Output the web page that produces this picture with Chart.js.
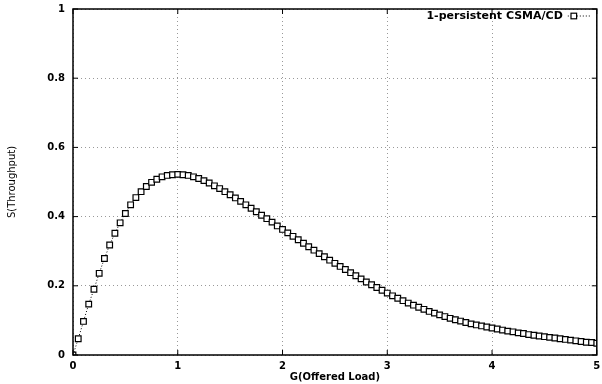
<!DOCTYPE html>
<html><head><meta charset="utf-8">
<script src="https://cdn.jsdelivr.net/npm/chart.js@4/dist/chart.umd.min.js"></script>
<style>html,body{margin:0;padding:0;background:#fff}#wrap{width:602px;height:384px;position:relative}</style>
</head><body><div id="wrap"><canvas id="c" width="602" height="384"></canvas></div>
<script>
const offeredLoad = [0,0.05,0.1,0.15,0.2,0.25,0.3,0.35,0.4,0.45,0.5,0.55,0.6,0.65,0.7,0.75,0.8,0.85,0.9,0.95,
  1,1.05,1.1,1.15,1.2,1.25,1.3,1.35,1.4,1.45,1.5,1.55,1.6,1.65,1.7,1.75,1.8,1.85,1.9,1.95,
  2,2.05,2.1,2.15,2.2,2.25,2.3,2.35,2.4,2.45,2.5,2.55,2.6,2.65,2.7,2.75,2.8,2.85,2.9,2.95,
  3,3.05,3.1,3.15,3.2,3.25,3.3,3.35,3.4,3.45,3.5,3.55,3.6,3.65,3.7,3.75,3.8,3.85,3.9,3.95,
  4,4.05,4.1,4.15,4.2,4.25,4.3,4.35,4.4,4.45,4.5,4.55,4.6,4.65,4.7,4.75,4.8,4.85,4.9,4.95,5];
const throughput = [0,0.047,0.097,0.147,0.19,0.236,0.279,0.318,0.352,0.382,0.409,0.434,0.455,0.472,0.487,0.499,0.508,0.515,0.519,0.521,
  0.522,0.521,0.519,0.515,0.510,0.504,0.497,0.489,0.481,0.472,0.463,0.454,0.444,0.434,0.424,0.414,0.404,0.394,0.384,0.373,
  0.363,0.353,0.343,0.333,0.323,0.313,0.303,0.293,0.284,0.274,0.265,0.256,0.247,0.238,0.229,0.220,0.211,0.203,0.195,0.187,
  0.179,0.171,0.164,0.157,0.150,0.144,0.138,0.132,0.126,0.121,0.116,0.111,0.106,0.102,0.098,0.094,0.090,0.087,0.084,0.081,
  0.078,0.075,0.072,0.069,0.067,0.064,0.062,0.059,0.057,0.055,0.053,0.051,0.049,0.047,0.045,0.043,0.041,0.039,0.037,0.036,0.034];
const xTickLabels = ['0','1','2','3','4','5'];
const yTickLabels = ['0','0.2','0.4','0.6','0.8','1'];
const seriesLabel = '1-persistent CSMA/CD';
const xTitle = 'G(Offered Load)';
const yTitle = 'S(Throughput)';

const FONT = 'DejaVu Sans';

const framePlugin = {
  id: 'frame',
  afterDatasetsDraw(chart) {
    const {ctx, chartArea: a, scales: {x, y}} = chart;
    ctx.save();
    ctx.strokeStyle = '#000';
    ctx.lineWidth = 1.5;
    ctx.setLineDash([]);
    ctx.strokeRect(a.left, a.top, a.right - a.left, a.bottom - a.top);
    ctx.lineWidth = 1;
    const tl = 5;
    x.ticks.forEach(t => {
      const px = x.getPixelForValue(t.value);
      ctx.beginPath();
      ctx.moveTo(px, a.bottom); ctx.lineTo(px, a.bottom - tl);
      ctx.moveTo(px, a.top); ctx.lineTo(px, a.top + tl);
      ctx.stroke();
    });
    y.ticks.forEach(t => {
      const py = y.getPixelForValue(t.value);
      ctx.beginPath();
      ctx.moveTo(a.left, py); ctx.lineTo(a.left + tl, py);
      ctx.moveTo(a.right, py); ctx.lineTo(a.right - tl, py);
      ctx.stroke();
    });
    // legend
    const ly = a.top + 7;
    ctx.font = 'bold 11px "' + FONT + '"';
    ctx.fillStyle = '#000';
    ctx.textAlign = 'right';
    ctx.textBaseline = 'middle';
    ctx.fillText(seriesLabel, a.right - 34, ly);
    ctx.setLineDash([1, 2]);
    ctx.beginPath();
    ctx.moveTo(a.right - 29, ly); ctx.lineTo(a.right - 5, ly);
    ctx.stroke();
    ctx.setLineDash([]);
    ctx.lineWidth = 1.2;
    ctx.fillStyle = '#fff';
    const s = 2.8, cx = a.right - 23;
    ctx.fillRect(cx - s, ly - s, 2 * s, 2 * s);
    ctx.strokeRect(cx - s, ly - s, 2 * s, 2 * s);
    ctx.restore();
  }
};

new Chart(document.getElementById('c'), {
  type: 'line',
  data: {
    datasets: [{
      label: seriesLabel,
      data: offeredLoad.map((g, i) => ({x: g, y: throughput[i]})),
      borderColor: '#000',
      borderWidth: 1,
      borderDash: [1, 2],
      pointStyle: 'rect',
      pointRadius: 4,
      pointBorderWidth: 1.2,
      pointBorderColor: '#000',
      pointBackgroundColor: '#fff',
      tension: 0,
      fill: false
    }]
  },
  options: {
    responsive: false,
    animation: false,
    devicePixelRatio: 1,
    layout: {padding: {top: 9, right: 3, left: 0, bottom: 0}},
    plugins: {legend: {display: false}, tooltip: {enabled: false}},
    scales: {
      x: {
        type: 'linear', min: 0, max: 5,
        ticks: {stepSize: 1, color: '#000', padding: 5, maxRotation: 0,
          font: {family: FONT, size: 10, weight: 'bold'},
          callback: (v) => xTickLabels[Math.round(v)]},
        grid: {color: '#999', lineWidth: 1, drawTicks: false},
        border: {display: false, dash: [1, 3]},
        title: {display: true, text: xTitle, color: '#000', font: {family: FONT, size: 10, weight: 'bold'}, padding: {top: 0, bottom: 1}},
        afterFit: (s) => { s.height = 29; s.paddingRight = 0; s.paddingLeft = 0; }
      },
      y: {
        min: 0, max: 1,
        ticks: {stepSize: 0.2, color: '#000', padding: 8,
          font: {family: FONT, size: 10, weight: 'bold'},
          callback: (v) => yTickLabels[Math.round(v * 5)]},
        grid: {color: '#999', lineWidth: 1, drawTicks: false},
        border: {display: false, dash: [1, 3]},
        title: {display: true, text: yTitle, color: '#000', font: {family: FONT, size: 10}, padding: {top: 6, bottom: 0}},
        afterFit: (s) => { s.width = 73; s.paddingTop = 0; s.paddingBottom = 0; }
      }
    }
  },
  plugins: [framePlugin]
});
</script>
</body></html>
